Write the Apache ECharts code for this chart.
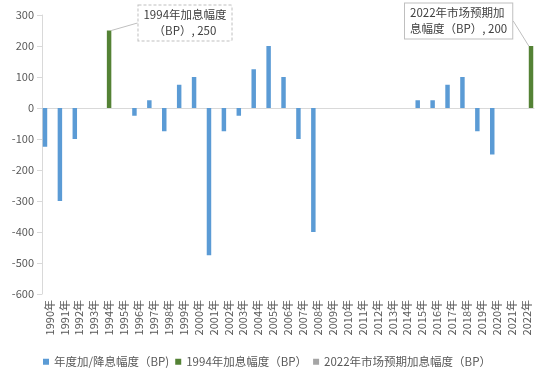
<!DOCTYPE html>
<html>
<head>
<meta charset="utf-8">
<script src="https://cdn.jsdelivr.net/npm/echarts@6/dist/echarts.min.js"></script>
<style>
  html, body { margin: 0; padding: 0; background: #fff; }
  #chart { width: 548px; height: 378px; }
</style>
</head>
<body>
<div id="chart"></div>
<script>
const years = ['1990年', '1991年', '1992年', '1993年', '1994年', '1995年', '1996年', '1997年', '1998年', '1999年',
  '2000年', '2001年', '2002年', '2003年', '2004年', '2005年', '2006年', '2007年', '2008年', '2009年',
  '2010年', '2011年', '2012年', '2013年', '2014年', '2015年', '2016年', '2017年', '2018年', '2019年',
  '2020年', '2021年', '2022年']

// 年度加/降息幅度
const annualBp = [-125, -300, -100, null, null, null, -25, 25, -75, 75,
  100, -475, -75, -25, 125, 200, 100, -100, -400, null,
  null, null, null, null, null, 25, 25, 75, 100, -75,
  -150, null, null]

// 1994年加息幅度
const hike1994 = [null, null, null, null, 250, null, null, null, null, null,
  null, null, null, null, null, null, null, null, null, null,
  null, null, null, null, null, null, null, null, null, null,
  null, null, null]

// 2022年市场预期加息幅度
const expected2022 = [null, null, null, null, null, null, null, null, null, null,
  null, null, null, null, null, null, null, null, null, null,
  null, null, null, null, null, null, null, null, null, null,
  null, null, 200]

const yTicks = { min: -600, max: 300, step: 100 }

const C = {
  blue: '#5b9bd5', green: '#548235', grey: '#a5a5a5',
  text: '#595959', axis: '#d9d9d9', box: '#bfbfbf',
}
const FONT = '"Noto Sans CJK SC", "Noto Sans", sans-serif'

const calloutLabel = {
  show: true,
  fontFamily: FONT,
  fontSize: 11.5,
  lineHeight: 16,
  color: '#404040',
  backgroundColor: '#fff',
  borderColor: C.box,
  borderWidth: 1,
  padding: [2, 5, 1, 5],
}

const chart = echarts.init(document.getElementById('chart'))
chart.setOption({
  animation: false,
  textStyle: { fontFamily: FONT },
  grid: { left: 42, right: 14, top: 15, bottom: 84 },
  legend: {
    left: 38,
    top: 351,
    icon: 'rect',
    itemWidth: 6,
    itemHeight: 6,
    itemGap: 6,
    textStyle: { color: C.text, fontSize: 11.5, fontFamily: FONT },
    data: ['年度加/降息幅度（BP)', '1994年加息幅度（BP）', '2022年市场预期加息幅度（BP）'],
  },
  xAxis: [
    {
      type: 'category',
      data: years,
      axisLine: { show: false, onZero: false },
      axisTick: { show: false },
      axisLabel: { interval: 0, rotate: 90, color: C.text, fontSize: 11, margin: 6 },
    },
    {
      type: 'category',
      data: years,
      position: 'bottom',
      axisLine: { onZero: true, lineStyle: { color: C.axis, width: 1 } },
      axisTick: { show: false },
      axisLabel: { show: false },
    },
  ],
  yAxis: {
    type: 'value',
    min: yTicks.min,
    max: yTicks.max,
    interval: yTicks.step,
    axisLine: { show: true, lineStyle: { color: C.axis } },
    axisTick: { show: true, length: 5, lineStyle: { color: C.axis } },
    splitLine: { show: false },
    axisLabel: { color: C.text, fontSize: 11, margin: 8 },
  },
  series: [
    {
      name: '年度加/降息幅度（BP)',
      type: 'bar',
      data: annualBp,
      barWidth: '30%',
      barGap: '0%',
      itemStyle: { color: C.blue },
    },
    {
      name: '1994年加息幅度（BP）',
      type: 'bar',
      data: hike1994,
      barWidth: '30%',
      barGap: '0%',
      itemStyle: { color: C.green },
      label: {
        ...calloutLabel,
        borderType: [3, 2],
        formatter: p => '1994年加息幅度\n（BP）, ' + p.value,
      },
      labelLine: { show: true, lineStyle: { color: C.box, width: 1 } },
      labelLayout: { x: 185, y: 23, align: 'center', verticalAlign: 'middle' },
    },
    {
      name: '2022年市场预期加息幅度（BP）',
      type: 'bar',
      data: expected2022.map(v => v == null ? null : { value: v, itemStyle: { color: C.green } }),
      barWidth: '30%',
      barGap: '0%',
      itemStyle: { color: C.grey },
      label: {
        ...calloutLabel,
        formatter: p => '2022年市场预期加\n息幅度（BP）, ' + p.value,
      },
      labelLine: { show: true, lineStyle: { color: C.box, width: 1 } },
      labelLayout: { x: 405, y: 21, align: 'left', verticalAlign: 'middle' },
    },
  ],
})
</script>
</body>
</html>
